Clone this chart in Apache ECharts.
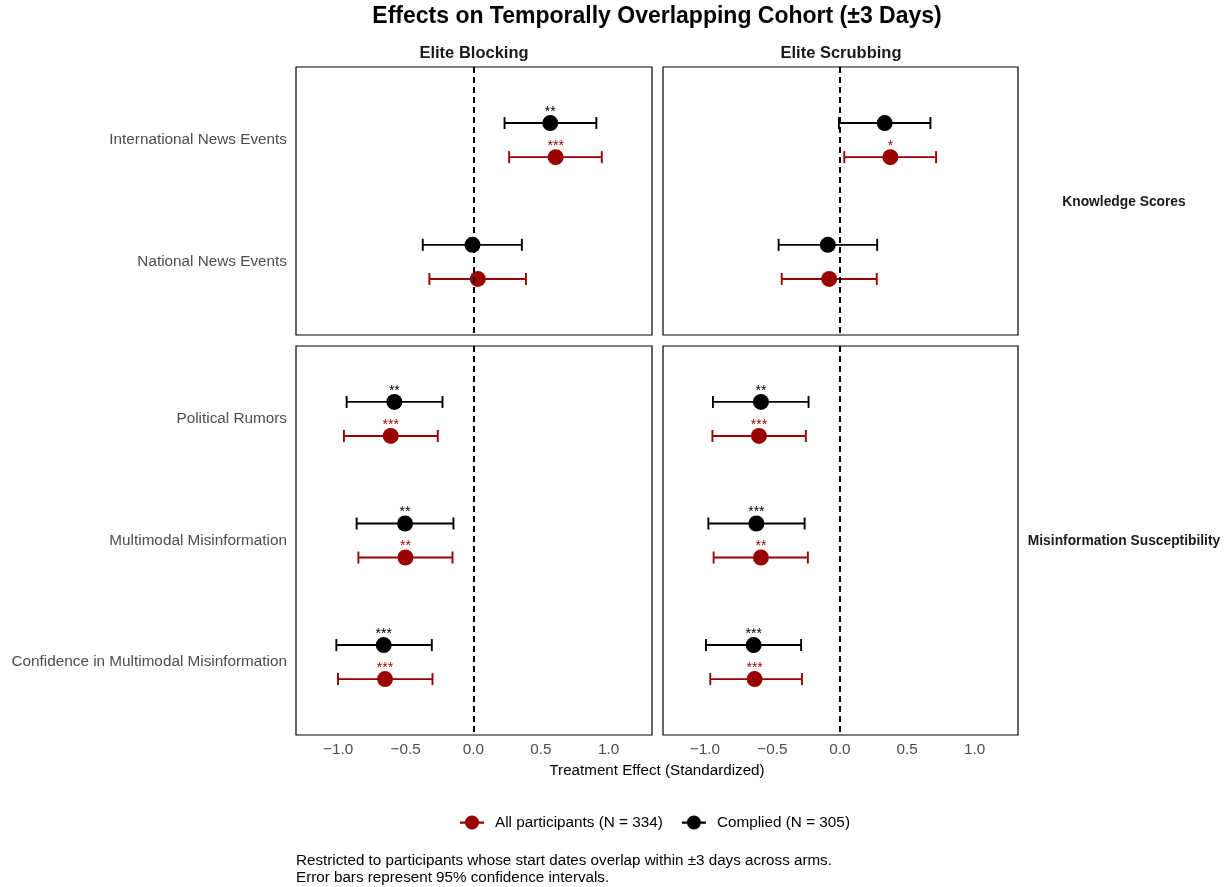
<!DOCTYPE html>
<html>
<head>
<meta charset="utf-8">
<title>Effects on Temporally Overlapping Cohort</title>
<script src="https://cdn.jsdelivr.net/npm/echarts@6/dist/echarts.min.js"></script>
<style>
  html, body { margin: 0; padding: 0; background: #fff; }
  #chart { width: 1232px; height: 887px; }
</style>
</head>
<body>
<div id="chart"></div>
<script>
// Facets (columns) and outcome panels (rows)
const facets = ['Elite Blocking', 'Elite Scrubbing'];
const domains = ['Knowledge Scores', 'Misinformation Susceptibility'];
const knowledgeItems = ['International News Events', 'National News Events'];
const misinfoItems = ['Political Rumors', 'Multimodal Misinformation', 'Confidence in Multimodal Misinformation'];
const xTicks = [-1, -0.5, 0, 0.5, 1];

// Outcome order: International, National, Political Rumors, Multimodal, Confidence
// Elite Blocking
const blockingAllEst   = [0.609, 0.033, -0.611, -0.502, -0.653];
const blockingAllLow   = [0.265, -0.325, -0.957, -0.850, -1.001];
const blockingAllHigh  = [0.950, 0.389, -0.263, -0.154, -0.302];
const blockingAllStars = ['***', '', '***', '**', '***'];
const blockingCompEst   = [0.569, -0.006, -0.584, -0.505, -0.663];
const blockingCompLow   = [0.231, -0.374, -0.937, -0.863, -1.013];
const blockingCompHigh  = [0.910, 0.359, -0.228, -0.147, -0.307];
const blockingCompStars = ['**', '', '**', '**', '***'];
// Elite Scrubbing
const scrubbingAllEst   = [0.375, -0.079, -0.600, -0.585, -0.632];
const scrubbingAllLow   = [0.033, -0.431, -0.945, -0.936, -0.961];
const scrubbingAllHigh  = [0.714, 0.274, -0.252, -0.237, -0.281];
const scrubbingAllStars = ['*', '', '***', '**', '***'];
const scrubbingCompEst   = [0.333, -0.089, -0.585, -0.619, -0.639];
const scrubbingCompLow   = [-0.007, -0.454, -0.941, -0.975, -0.993];
const scrubbingCompHigh  = [0.672, 0.277, -0.232, -0.261, -0.287];
const scrubbingCompStars = ['', '', '**', '***', '***'];

const allName = 'All participants (N = 334)';
const compName = 'Complied (N = 305)';
const RED = '#990000';
const BLACK = '#000000';
const FONT = '"Liberation Sans", Arial, Helvetica, sans-serif';
const DODGE = 0.14;

// Each outcome's panel row and position inside it
const rowOf = [0, 0, 1, 1, 1];
const posOf = [1, 2, 1, 2, 3];
const rowItems = [knowledgeItems, misinfoItems];

// Panel geometry
const colLeft = [296, 663];
const colWidth = 356;
const rowTop = [67, 346];
const rowHeight = [268, 389];
const xMin = -1.3115, xMax = 1.3215;

const grids = [], xAxes = [], yAxes = [];
for (let r = 0; r < 2; r++) {
  for (let c = 0; c < 2; c++) {
    grids.push({
      left: colLeft[c], top: rowTop[r], width: colWidth - (c ? 1 : 0), height: rowHeight[r],
      show: true, borderColor: '#000', borderWidth: 1.2, backgroundColor: 'transparent'
    });
    const gi = grids.length - 1;
    xAxes.push({
      type: 'value', gridIndex: gi, min: xMin, max: xMax,
      axisLine: { show: false }, axisTick: { show: false }, splitLine: { show: false },
      axisLabel: {
        show: r === 1, customValues: xTicks, margin: 7,
        color: '#4d4d4d', fontSize: 15.3, fontFamily: FONT,
        formatter: v => (v < 0 ? '\u2212' : '') + Math.abs(v).toFixed(1)
      }
    });
    const items = rowItems[r];
    yAxes.push({
      type: 'value', gridIndex: gi, inverse: true,
      min: 0.4, max: items.length + 0.6,
      axisLine: { show: false }, axisTick: { show: false }, splitLine: { show: false },
      axisLabel: {
        show: c === 0, customValues: items.map((_, i) => i + 1), margin: 9,
        color: '#4d4d4d', fontSize: 15.3, fontFamily: FONT,
        formatter: v => items[Math.round(v) - 1] || ''
      }
    });
  }
}

function errorBarRenderer(color) {
  return function (params, api) {
    const y = api.value(2);
    const a = api.coord([api.value(0), y]);
    const b = api.coord([api.value(1), y]);
    const cap = 6;
    const style = { stroke: color, lineWidth: 1.9 };
    return {
      type: 'group',
      children: [
        { type: 'line', shape: { x1: a[0], y1: a[1], x2: b[0], y2: b[1] }, style },
        { type: 'line', shape: { x1: a[0], y1: a[1] - cap, x2: a[0], y2: a[1] + cap }, style },
        { type: 'line', shape: { x1: b[0], y1: b[1] - cap, x2: b[0], y2: b[1] + cap }, style }
      ]
    };
  };
}

const arms = [
  { name: allName, color: RED, off: DODGE,
    est: [blockingAllEst, scrubbingAllEst], low: [blockingAllLow, scrubbingAllLow],
    high: [blockingAllHigh, scrubbingAllHigh], stars: [blockingAllStars, scrubbingAllStars] },
  { name: compName, color: BLACK, off: -DODGE,
    est: [blockingCompEst, scrubbingCompEst], low: [blockingCompLow, scrubbingCompLow],
    high: [blockingCompHigh, scrubbingCompHigh], stars: [blockingCompStars, scrubbingCompStars] }
];

const series = [];
for (let r = 0; r < 2; r++) {
  for (let c = 0; c < 2; c++) {
    const gi = r * 2 + c;
    // reference line at zero
    series.push({
      type: 'scatter', xAxisIndex: gi, yAxisIndex: gi, data: [], z: 1, silent: true,
      markLine: {
        silent: true, symbol: ['none', 'none'], label: { show: false },
        lineStyle: { color: '#000', type: [6, 4], width: 2 },
        data: [{ xAxis: 0 }], animation: false
      }
    });
    arms.forEach(arm => {
      const bars = [], pts = [];
      for (let k = 0; k < 5; k++) {
        if (rowOf[k] !== r) continue;
        const y = posOf[k] + arm.off;
        bars.push([arm.low[c][k], arm.high[c][k], y]);
        pts.push([arm.est[c][k], y, arm.stars[c][k]]);
      }
      series.push({
        type: 'custom', name: arm.name, xAxisIndex: gi, yAxisIndex: gi, z: 2,
        renderItem: errorBarRenderer(arm.color), encode: { x: [0, 1], y: 2 },
        itemStyle: { color: arm.color }, data: bars, silent: true
      });
      series.push({
        type: 'scatter', name: arm.name, xAxisIndex: gi, yAxisIndex: gi, z: 3,
        symbol: 'circle', symbolSize: 16, itemStyle: { color: arm.color, opacity: 1 },
        encode: { x: 0, y: 1 },
        label: {
          show: true, position: 'top', distance: -4, color: arm.color,
          fontSize: 14, fontFamily: FONT, formatter: p => p.data[2]
        },
        data: pts, silent: true
      });
    });
  }
}

const legendIcon = 'path://M0,6H24V8.2H0Z M12,0A7,7 0 1,1 12,14A7,7 0 1,1 12,0Z';

const texts = [];
texts.push({ type: 'text', x: 657, y: 17, style: {
  text: 'Effects on Temporally Overlapping Cohort (\u00b13 Days)', fill: '#000',
  font: 'bold 23px ' + FONT, textAlign: 'center', textVerticalAlign: 'middle' } });
facets.forEach((f, c) => texts.push({ type: 'text', x: colLeft[c] + colWidth / 2, y: 53, style: {
  text: f, fill: '#1a1a1a', font: 'bold 16.5px ' + FONT, textAlign: 'center', textVerticalAlign: 'middle' } }));
domains.forEach((d, r) => texts.push({ type: 'text', x: 1124, y: rowTop[r] + rowHeight[r] / 2 + 1, style: {
  text: d, fill: '#1a1a1a', font: 'bold 13.8px ' + FONT, textAlign: 'center', textVerticalAlign: 'middle' } }));
texts.push({ type: 'text', x: 657, y: 771, style: {
  text: 'Treatment Effect (Standardized)', fill: '#000', font: '15.2px ' + FONT,
  textAlign: 'center', textVerticalAlign: 'middle' } });
texts.push({ type: 'text', x: 296, y: 861, style: {
  text: 'Restricted to participants whose start dates overlap within \u00b13 days across arms.', fill: '#000',
  font: '15.2px ' + FONT, textAlign: 'left', textVerticalAlign: 'middle' } });
texts.push({ type: 'text', x: 296, y: 878, style: {
  text: 'Error bars represent 95% confidence intervals.', fill: '#000',
  font: '15.2px ' + FONT, textAlign: 'left', textVerticalAlign: 'middle' } });

const chart = echarts.init(document.getElementById('chart'), null, { renderer: 'canvas' });
chart.setOption({
  animation: false,
  backgroundColor: '#ffffff',
  textStyle: { fontFamily: FONT },
  grid: grids,
  xAxis: xAxes,
  yAxis: yAxes,
  legend: {
    left: 455, top: 810, itemWidth: 24, itemHeight: 14, itemGap: 19,
    selectedMode: false,
    textStyle: { fontSize: 15.3, color: '#000', fontFamily: FONT, padding: [0, 0, 0, 6] },
    data: [
      { name: allName, icon: legendIcon, itemStyle: { color: RED } },
      { name: compName, icon: legendIcon, itemStyle: { color: BLACK } }
    ]
  },
  graphic: texts,
  series: series
});
</script>
</body>
</html>
